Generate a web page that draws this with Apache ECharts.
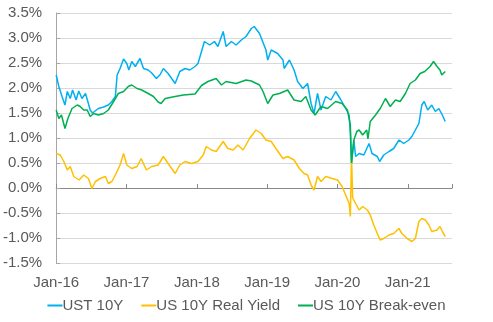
<!DOCTYPE html>
<html>
<head>
<meta charset="utf-8">
<script src="https://cdn.jsdelivr.net/npm/echarts@6/dist/echarts.min.js"></script>
<style>html,body{margin:0;padding:0;background:#fff}#c{width:493px;height:322px}</style>
</head>
<body>
<div id="c"></div>
<script>
// x values are months since Jan-2016
var tickLabels = ['Jan-16','Jan-17','Jan-18','Jan-19','Jan-20','Jan-21'];
var seriesNames = ['UST 10Y','US 10Y Real Yield','US 10Y Break-even'];

var ustX = [0,0.45,1.0,1.5,1.9,2.4,2.8,3.4,3.85,4.4,5.0,5.4,5.8,6.2,7.2,8.1,8.9,9.5,10.1,10.4,10.9,11.5,12.05,12.4,12.9,13.5,14.3,14.9,15.7,16.3,17.1,17.7,18.3,19.1,20.3,21.1,22.0,22.8,23.7,24.2,24.8,25.3,26.2,27.0,27.6,28.5,29.0,29.9,30.7,31.6,32.4,33.3,33.8,34.7,35.8,36.1,36.7,37.8,38.7,38.9,39.8,40.6,41.2,42.1,42.9,43.5,44.0,44.6,45.2,46.0,46.9,47.7,48.6,49.4,50.0,50.2,50.4,50.8,51.1,51.7,52.5,53.4,53.9,54.8,55.2,55.9,56.8,57.6,58.5,59.3,60.2,60.7,61.3,61.9,62.4,62.8,63.4,64.1,64.7,65.3,65.9,66.4];
var ustY = [2.26,2.03,1.83,1.66,1.93,1.79,1.96,1.76,1.94,1.79,1.89,1.73,1.56,1.50,1.59,1.62,1.66,1.73,1.83,2.26,2.39,2.58,2.49,2.36,2.53,2.43,2.59,2.39,2.36,2.30,2.19,2.26,2.39,2.29,2.09,2.33,2.39,2.36,2.43,2.49,2.73,2.93,2.86,2.93,2.83,3.13,2.83,2.93,2.86,2.96,3.03,3.19,3.23,3.09,2.76,2.56,2.76,2.69,2.56,2.39,2.56,2.36,2.13,1.99,2.09,1.69,1.49,1.89,1.56,1.83,1.76,1.93,1.76,1.59,1.46,1.09,0.49,0.96,0.63,0.69,0.66,0.89,0.69,0.63,0.53,0.66,0.73,0.79,0.96,0.89,0.96,1.03,1.16,1.29,1.66,1.73,1.56,1.66,1.53,1.59,1.46,1.33];

var realX = [0,0.7,1.3,1.9,2.4,3.0,3.9,4.7,5.5,6.1,6.7,7.5,8.4,8.9,9.5,10.1,10.9,11.5,12.05,12.9,13.8,14.5,15.4,16.3,17.4,18.3,19.1,20.3,21.1,22.0,23.1,24.2,25.1,25.6,26.5,27.3,28.5,29.3,30.2,31.0,31.9,33.0,34.1,35.0,35.8,36.7,37.5,38.7,39.5,40.6,41.5,42.3,42.9,43.5,44.0,44.6,45.2,46.0,47.1,48.0,48.8,49.4,50.0,50.2,50.4,50.6,51.1,51.7,52.3,53.1,53.6,54.2,54.8,55.3,55.9,56.8,57.6,58.5,59.0,59.9,60.7,61.3,61.9,62.4,63.0,63.6,64.1,65.0,65.5,65.9,66.4];
var realY = [0.69,0.66,0.53,0.36,0.43,0.23,0.16,0.26,0.19,-0.01,0.13,0.19,0.23,0.09,0.13,0.26,0.46,0.69,0.46,0.39,0.43,0.59,0.36,0.43,0.46,0.63,0.49,0.29,0.46,0.53,0.49,0.53,0.66,0.83,0.76,0.73,0.93,0.79,0.76,0.86,0.76,0.99,1.16,1.09,0.96,0.93,0.79,0.59,0.63,0.56,0.39,0.29,0.26,0.06,-0.04,0.23,0.13,0.23,0.19,0.16,0.03,-0.14,-0.31,-0.57,0.62,-0.20,-0.31,-0.44,-0.37,-0.44,-0.54,-0.74,-0.91,-1.04,-1.01,-0.94,-0.91,-0.81,-0.91,-1.01,-1.07,-1.01,-0.67,-0.61,-0.64,-0.74,-0.87,-0.84,-0.77,-0.87,-0.97];

var beX = [0,0.45,0.9,1.5,2.0,2.7,3.6,4.1,4.7,5.3,5.8,6.4,7.2,8.1,8.9,9.8,10.6,11.5,12.3,12.9,13.8,14.6,15.7,16.6,17.4,17.9,18.6,20.3,21.7,23.7,24.8,25.9,27.3,28.2,29.0,30.7,32.4,33.3,34.7,35.3,36.1,37.0,38.1,39.5,40.6,41.8,42.6,43.5,44.2,45.2,46.3,47.7,48.8,49.7,50.2,50.4,50.8,51.3,51.7,52.3,53.0,53.2,53.6,54.5,55.3,56.2,57.0,57.9,58.7,59.6,60.4,61.3,62.1,62.9,63.8,64.4,65.0,65.5,65.8,66.4];
var beY = [1.56,1.39,1.46,1.19,1.39,1.59,1.66,1.63,1.56,1.56,1.43,1.49,1.46,1.49,1.56,1.73,1.89,1.93,2.03,2.06,1.99,1.96,1.89,1.83,1.72,1.69,1.79,1.83,1.86,1.88,2.05,2.13,2.19,2.06,2.13,2.09,2.16,2.14,2.06,1.93,1.69,1.86,1.89,1.96,1.76,1.73,1.83,1.56,1.46,1.63,1.59,1.73,1.69,1.56,1.26,0.50,0.96,1.13,1.16,1.06,1.16,0.98,1.33,1.46,1.59,1.79,1.63,1.76,1.73,1.89,2.09,2.16,2.29,2.33,2.43,2.53,2.43,2.36,2.26,2.33];

var colors = ['#00b0f0','#ffc000','#00b050'];

function pairs(xs, ys){ return xs.map(function(x,i){ return [x, ys[i]]; }); }

var font = 'Arial, "Liberation Sans", sans-serif';
var xCommon = { type:'value', min:0, max:67.55, interval:12 };

var chart = echarts.init(document.getElementById('c'), null, {renderer:'canvas'});
chart.setOption({
  animation:false,
  color: colors,
  grid: { left:54, right:41, top:13, bottom:59, containLabel:false },
  legend: {
    data: seriesNames,
    bottom: 4, left: 'center',
    icon: 'rect', itemWidth: 15, itemHeight: 2, itemGap: 18,
    textStyle: { fontFamily: font, fontSize: 15, color:'#595959', padding:[0,0,0,-5] }
  },
  xAxis: [
    Object.assign({}, xCommon, {
      position:'bottom',
      axisLine:{ show:false, onZero:false },
      axisTick:{ show:false },
      splitLine:{ show:false },
      axisLabel:{ margin:12, fontFamily:font, fontSize:15, color:'#595959', showMaxLabel:false,
        formatter:function(v){ var i=Math.round(v/12); return tickLabels[i] || ''; } }
    }),
    Object.assign({}, xCommon, {
      position:'bottom',
      axisLine:{ show:true, onZero:true, lineStyle:{ color:'#898989', width:1 } },
      axisTick:{ show:true, inside:true, length:4, lineStyle:{ color:'#898989' } },
      axisLabel:{ show:false },
      splitLine:{ show:false }
    })
  ],
  yAxis: {
    type:'value', min:-1.5, max:3.5, interval:0.5,
    axisLine:{ show:true, lineStyle:{ color:'#a6a6a6' } },
    axisTick:{ show:true, inside:true, length:4, lineStyle:{ color:'#a6a6a6' } },
    splitLine:{ show:true, lineStyle:{ color:'#d9d9d9', width:1 } },
    axisLabel:{ margin:14, fontFamily:font, fontSize:15, color:'#595959',
      formatter:function(v){ return v.toFixed(1)+'%'; } }
  },
  series: [
    { name:seriesNames[0], type:'line', xAxisIndex:0, data:pairs(ustX, ustY), symbol:'none', lineStyle:{ width:1.5 } },
    { name:seriesNames[1], type:'line', xAxisIndex:0, data:pairs(realX, realY), symbol:'none', lineStyle:{ width:1.5 } },
    { name:seriesNames[2], type:'line', xAxisIndex:0, data:pairs(beX, beY), symbol:'none', lineStyle:{ width:1.5 } }
  ]
});
</script>
</body>
</html>
